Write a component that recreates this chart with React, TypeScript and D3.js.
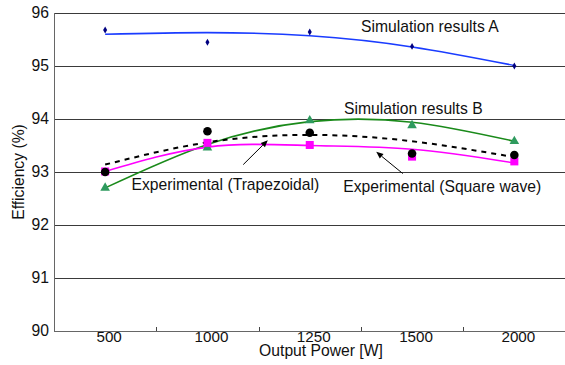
import React from 'react'
import * as d3 from 'd3'

const categories = ['500', '1000', '1250', '1500', '2000']
const yTicks = [90, 91, 92, 93, 94, 95, 96]

// markers
const simA = [95.68, 95.45, 95.64, 95.37, 95.0]
const simB = [92.7, 93.46, 93.97, 93.88, 93.58]
const expSquare = [93.01, 93.55, 93.51, 93.29, 93.2]
const expTrap = [93.0, 93.77, 93.74, 93.35, 93.32]

// trend lines
const simAFit = [95.6, 95.63, 95.57, 95.36, 95.01]
const simBFit = [92.7, 93.52, 93.95, 93.94, 93.58]
const squareFit = [93.01, 93.47, 93.5, 93.43, 93.17]
const trapFit = [93.14, 93.56, 93.7, 93.58, 93.28]

const W = 565
const H = 365
const margin = { top: 13, right: 0, bottom: 34, left: 54 }
const font = '"Liberation Sans", Arial, sans-serif'
const fs = 15.7

export default function App() {
  const x = d3.scaleBand<string>().domain(categories).range([margin.left, W + 0.5]).padding(0)
  const y = d3.scaleLinear().domain([90, 96]).range([H - margin.bottom, margin.top])
  const cx = (i: number) => x(categories[i])! + x.bandwidth() / 2
  // fractional category index -> pixel, for annotation arrows
  const xi = d3.scaleLinear().domain([0, categories.length - 1]).range([cx(0), cx(categories.length - 1)])

  const line = (vals: number[]) =>
    d3.line<number>().x((_, i) => cx(i)).y(d => y(d)).curve(d3.curveNatural)(vals) || ''

  const arrows = [
    { from: [1.35, 93.14], to: [1.59, 93.6] },
    { from: [2.91, 92.97], to: [2.65, 93.38] },
  ]

  const arrowHead = (a: { from: number[]; to: number[] }) => {
    const x1 = xi(a.from[0]), y1 = y(a.from[1])
    const x2 = xi(a.to[0]), y2 = y(a.to[1])
    const ang = Math.atan2(y2 - y1, x2 - x1)
    const len = 7, wid = 3
    const bx = x2 - len * Math.cos(ang), by = y2 - len * Math.sin(ang)
    const px = -Math.sin(ang) * wid, py = Math.cos(ang) * wid
    return { x1, y1, x2, y2, bx, by, pts: `${x2},${y2} ${bx + px},${by + py} ${bx - px},${by - py}` }
  }

  const tri = d3.symbol().type(d3.symbolTriangle).size(40)()!
  const diamond = d3.symbol().type(d3.symbolDiamond).size(14)()!

  return (
    <svg width={W} height={H} style={{ position: 'absolute', left: 0, top: 0, background: '#fff' }}
      fontFamily={font}>
      {/* grid */}
      {yTicks.slice(1).map(t => (
        <line key={t} x1={margin.left} x2={W} y1={Math.round(y(t)) + 0.5} y2={Math.round(y(t)) + 0.5}
          stroke="#3a3a3a" strokeWidth={1} />
      ))}
      {/* axes */}
      <line x1={margin.left + 0.5} x2={margin.left + 0.5} y1={margin.top} y2={y(90)} stroke="#666" />
      <line x1={margin.left} x2={W} y1={Math.round(y(90)) + 0.5} y2={Math.round(y(90)) + 0.5} stroke="#666" />
      {categories.slice(1).map(c => (
        <line key={c} x1={Math.round(x(c)!) + 0.5} x2={Math.round(x(c)!) + 0.5}
          y1={y(90) - 4} y2={y(90)} stroke="#444" />
      ))}
      {yTicks.map(t => (
        <text key={t} x={49} y={y(t)} dy="0.35em" textAnchor="end" fontSize={fs} fill="#111">{t}</text>
      ))}
      {categories.map(c => (
        <text key={c} x={x(c)! + x.bandwidth() / 2 + 4} y={341.5} textAnchor="middle" fontSize={15.2} fill="#111">{c}</text>
      ))}
      <text x={321} y={356} textAnchor="middle" fontSize={fs} fill="#111">Output Power [W]</text>
      <text transform={`translate(24,${(margin.top + y(90)) / 2}) rotate(-90)`} textAnchor="middle"
        fontSize={fs} fill="#111">Efficiency (%)</text>

      {/* trend lines */}
      <path d={line(simBFit)} fill="none" stroke="#1a8a1a" strokeWidth={1.6} />
      <path d={line(trapFit)} fill="none" stroke="#000" strokeWidth={2} strokeDasharray="5,5" />
      <path d={line(squareFit)} fill="none" stroke="#ff00ff" strokeWidth={1.6} />
      <path d={line(simAFit)} fill="none" stroke="#1a3cff" strokeWidth={1.6} />

      {/* markers */}
      {simB.map((v, i) => (
        <path key={'b' + i} d={tri} transform={`translate(${cx(i)},${y(v)})`} fill="#2e9a5e" />
      ))}
      {expSquare.map((v, i) => (
        <rect key={'s' + i} x={cx(i) - 4} y={y(v) - 4} width={8} height={8} fill="#ff00ff" />
      ))}
      {expTrap.map((v, i) => (
        <circle key={'t' + i} cx={cx(i)} cy={y(v)} r={4.3} fill="#000" />
      ))}
      {simA.map((v, i) => (
        <path key={'a' + i} d={diamond} transform={`translate(${cx(i)},${y(v)})`} fill="#000080" />
      ))}

      {/* annotations */}
      {arrows.map((a, i) => {
        const h = arrowHead(a)
        return (
          <g key={i}>
            <line x1={h.x1} y1={h.y1} x2={h.bx} y2={h.by} stroke="#000" strokeWidth={1} />
            <polygon points={h.pts} fill="#000" />
          </g>
        )
      })}
      <text x={361} y={31.5} fontSize={fs} fill="#111">Simulation results A</text>
      <text x={344} y={114} fontSize={fs} fill="#111">Simulation results B</text>
      <text x={131.5} y={190} fontSize={fs} fill="#111">Experimental (Trapezoidal)</text>
      <text x={343.3} y={191.5} fontSize={fs} fill="#111">Experimental (Square wave)</text>
    </svg>
  )
}
